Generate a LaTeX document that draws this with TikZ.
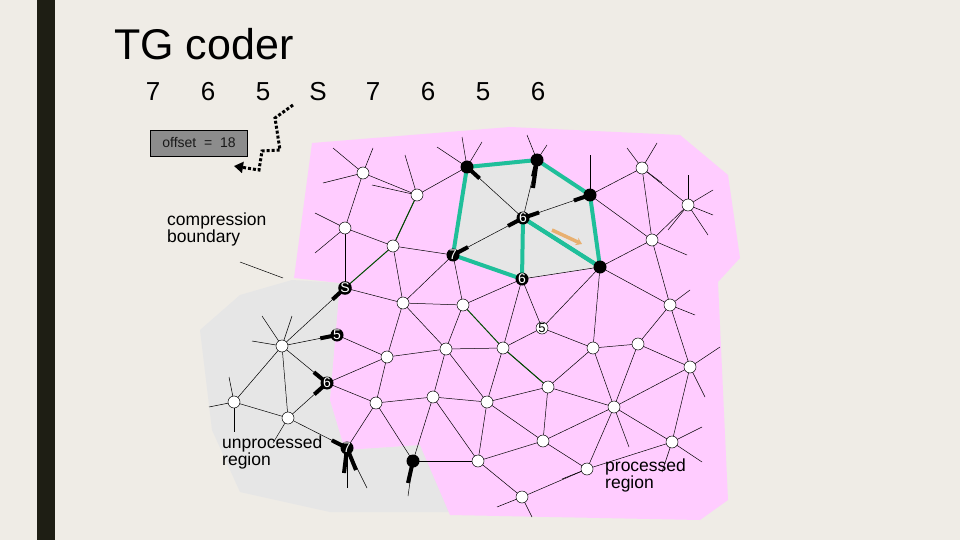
\documentclass[tikz,border=0pt]{standalone}
\usepackage{fontspec}
\setmainfont{Liberation Sans}
\usetikzlibrary{calc,arrows.meta}
\definecolor{bg}{HTML}{EFECE6}
\definecolor{pinkr}{HTML}{FFCCFF}
\definecolor{greyr}{HTML}{E6E6E6}
\definecolor{teal}{HTML}{1FBF9A}
\definecolor{bar}{HTML}{1E1E14}
\definecolor{orng}{HTML}{E8B070}
\begin{document}
\begin{tikzpicture}[x=1pt,y=-1pt,
  wv/.style={circle,draw,fill=white,inner sep=0pt,minimum size=12pt,line width=0.5pt},
  bv/.style={circle,fill=black,inner sep=0pt,minimum size=13pt,text=white,font=\fontsize{14}{14}\selectfont},
  ed/.style={line width=0.5pt},
  gate/.style={line width=4pt},
  tl/.style={teal,line width=4pt},
  lab/.style={font=\fontsize{17.5}{17}\selectfont,align=left,inner sep=0pt,anchor=north west}]
\fill[bg] (0,0) rectangle (960,540);
\useasboundingbox (0,0) rectangle (960,540);
\fill[bar] (37,0) rectangle (55,540);
\node[font=\fontsize{43}{43}\selectfont,anchor=west,inner sep=0pt] (title) at (114,44) {TG coder};
\foreach \t [count=\i] in {7,6,5,S,7,6,5,6}
  \node[font=\fontsize{26}{26}\selectfont] (d\i) at (153+55*\i-55,92) {\t};
% regions
\fill[greyr] (200,330) -- (240,295) -- (292,280) -- (340,283) -- (330,400) -- (345,450) -- (420,445) -- (450,512) -- (330,512) -- (240,492) -- (212,430) -- cycle;
\fill[pinkr] (312,143) -- (510,127) -- (680,135) -- (728,175) -- (740,258) -- (718,282) -- (728,500) -- (700,520) -- (450,515) -- (420,445) -- (345,450) -- (330,400) -- (340,283) -- (294,278) -- cycle;
\fill[greyr] (467,167) -- (537,160) -- (590,195) -- (600,267) -- (522,279) -- (453,255) -- cycle;
% vertices
\foreach \n/\x/\y in {A1/363/173,A2/417/195,A3/642/168,A4/688/205,A5/345/228,A6/393/246,A7/652/240,
  A8/403/303,A9/463/305,W5/542/328,A10/670/305,U1/282/346,A11/387/357,A12/446/349,A13/503/348,
  A14/593/348,A15/638/344,A16/690/367,U2/234/402,U3/288/418,A17/376/403,A18/433/397,A19/487/402,
  A20/548/387,A21/614/407,A22/478/461,A23/543/441,A24/672/442,A25/587/469,A26/522/497}
  \coordinate (\n) at (\x,\y);
\foreach \n/\x/\y in {B1/467/167,B2/537/160,B3/590/195,C7/453/255,C6a/523/218,C6b/522/279,B4/600/267,
  S/345/288,B5/337/335,B6/327/383,B7/347/448,B8/413/461}
  \coordinate (\n) at (\x,\y);
% edges
\foreach \a/\b in {A1/A2,A1/A5,A2/B1,A2/A6,A5/A6,A5/S,A6/C7,A6/A8,S/A8,C7/A8,C7/A9,C7/C6a,B1/C6a,B2/C6a,
  B3/C6a,C6b/B4,B3/A3,B3/A7,A3/A7,A3/A4,A4/A7,A7/B4,A7/A10,B4/A10,B4/A14,B4/W5,C6b/W5,C6b/A9,C6b/A13,
  A8/A9,A8/A11,A8/A12,A9/A12,W5/A13,W5/A14,A10/A15,A10/A16,A14/A15,A14/A20,A14/A21,A15/A16,
  A15/A21,A16/A21,A16/A24,A11/B5,A11/A12,A11/A17,B6/A17,A12/A13,A12/A18,A12/A19,A13/A19,A13/A20,
  A17/A18,A18/A19,A19/A20,A20/A21,A20/A23,A19/A23,A19/A22,A18/A22,A18/B8,A17/B8,A17/B7,B8/A22,
  A22/A23,A22/A26,A23/A25,A23/A21,A21/A25,A21/A24,A25/A26,A25/A24,S/U1,U1/B5,U1/B6,U1/U2,U1/U3,
  U2/U3,U3/B6,U3/B7,B6/A11}
  \draw[ed] (\a) -- (\b);
\draw[line width=1pt,black!70!green] (S) -- (A6) -- (A2);
\draw[line width=1pt,black!70!green] (A9) -- (A13) -- (A20);
% stubs
\foreach \n/\dx/\dy in {A1/-30/-25,A1/10/-25,A1/-40/10,A2/-12/-40,A2/-45/-10,B1/-30/-20,B1/-5/-30,B1/15/-25,
  B2/-10/-25,B2/10/-15,B3/0/-40,A3/-15/-20,A3/15/-25,A3/20/15,A4/0/-30,A4/25/-15,A4/25/10,A4/20/30,A4/-20/25,
  A5/-30/-15,A5/-30/25,A7/35/15,A10/20/-15,A10/25/10,A16/30/-20,A16/15/30,A24/30/-15,A24/30/20,
  A26/-25/10,A26/10/20,A25/-25/10,A24/-10/30,U2/-25/5,U2/-5/-25,U2/0/30,U1/-30/-5,U1/-20/-30,U1/10/-30,
  U3/-15/25,B7/0/40,B7/20/40,B8/-5/35,A21/15/40}
  \draw[ed] (\n) -- +(\dx,\dy);
% teal
\draw[tl,line join=round] (C7) -- (B1) -- (B2) -- (B3) -- (B4) -- (C6a) -- (C6b) -- (C7);
\draw[tl] (C6a) -- (B4);
% gates
\foreach \a/\b in {B1/C6a,B2/C6a,B3/C6a,C6a/C7,C6a/B3,C7/C6a,S/U1,B5/U1,B6/U1,B6/U3,B7/U3}
  \draw[gate] ($(\a)!3pt!(\b)$) -- ($(\a)!17pt!(\b)$);
\draw[gate] (B7) -- +(-3,25);
\draw[gate] (B7) -- +(9,22);
\draw[gate] (B8) -- +(-5,22);
\draw[gate] (B2) -- +(-4,28);
% orange arrow
\draw[orng,line width=3.5pt,-{Stealth[length=6pt,width=8pt]}] (552,230) -- (582,244);
% vertex nodes
\foreach \n in {A1,A2,A3,A4,A5,A6,A7,A8,A9,A10,U1,A11,A12,A13,A14,A15,A16,U2,U3,A17,A18,A19,A20,A21,A22,A23,A24,A25,A26}
  \node[wv] (n\n) at (\n) {};
\node[wv,font=\fontsize{13}{13}\selectfont] (nW5) at (W5) {5};
\foreach \n/\t in {B1/,B2/,B3/,B4/,C7/7,C6a/6,C6b/6,S/S,B5/5,B6/6,B7/7,B8/}
  \node[bv] (n\n) at (\n) {\t};
% labels
\node[lab] (cb) at (167,213) {compression\\boundary};
\node[lab] (ur) at (222,436) {unprocessed\\region};
\node[lab] (pr) at (605,459) {processed\\region};
\coordinate (cbl1) at (240,262); \coordinate (cbl2) at (283,278);
\draw[ed] (cbl1) -- (cbl2);
% offset
\node[draw,fill=black!45,minimum width=97pt,minimum height=26pt,font=\fontsize{14}{14}\selectfont,text=black!90] (off) at (199,143) {offset\ \ =\ \ 18};
\coordinate (p0) at (293,105);
\coordinate (p9) at (234,166);
\draw[line width=3pt,dotted,-{Triangle[length=9pt,width=11pt]}] (p0) -- (275,118) -- (280,150) -- (262,151) -- (259,170) -- (p9);
\end{tikzpicture}
\end{document}
